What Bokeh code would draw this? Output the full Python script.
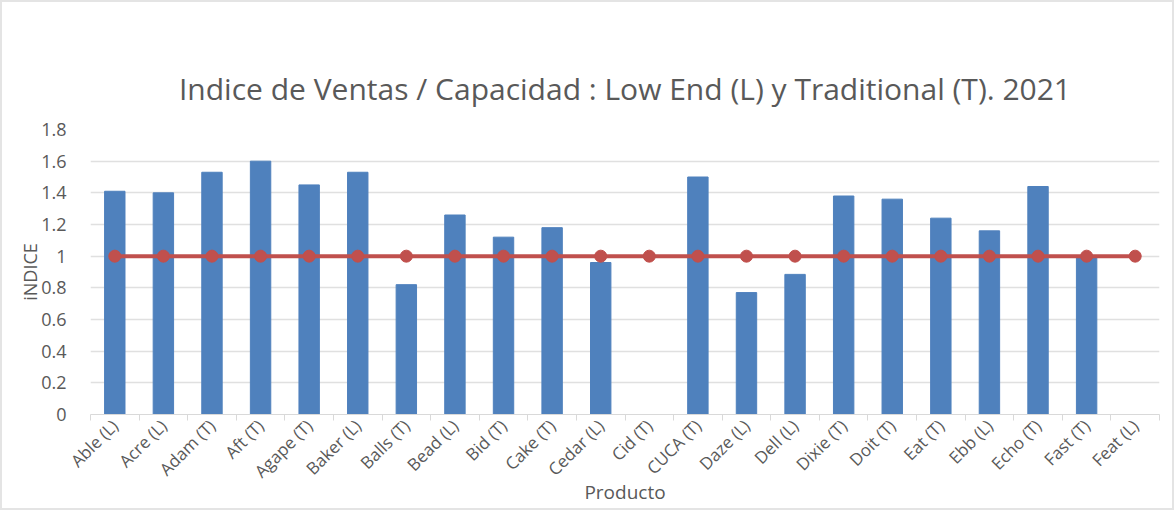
from bokeh.plotting import figure
from bokeh.models import FixedTicker, ColumnDataSource
from bokeh.embed import file_html
from bokeh.resources import INLINE
from math import pi

# Products (segment in parentheses) and their sales/capacity index for 2021
productos = ["Able (L)", "Acre (L)", "Adam (T)", "Aft (T)", "Agape (T)", "Baker (L)",
             "Balls (T)", "Bead (L)", "Bid (T)", "Cake (T)", "Cedar (L)", "Cid (T)",
             "CUCA (T)", "Daze (L)", "Dell (L)", "Dixie (T)", "Doit (T)", "Eat (T)",
             "Ebb (L)", "Echo (T)", "Fast (T)", "Feat (L)"]
indice = [1.41, 1.40, 1.53, 1.60, 1.45, 1.53,
          0.82, 1.26, 1.12, 1.18, 0.96, 0.0,
          1.50, 0.77, 0.885, 1.38, 1.36, 1.24,
          1.16, 1.44, 1.00, 0.0]
referencia = [1.0] * len(productos)

y_ticks = [0, 0.2, 0.4, 0.6, 0.8, 1.0, 1.2, 1.4, 1.6, 1.8]
y_tick_labels = ["0", "0.2", "0.4", "0.6", "0.8", "1", "1.2", "1.4", "1.6", "1.8"]

GRAY_TEXT = "#595959"
BLUE = "#4f81bd"
RED = "#c0504d"
FONT = "Open Sans"

xs = list(range(len(productos)))
src = ColumnDataSource(dict(x=xs, idx=indice, ref=referencia))

p = figure(width=1174, height=510, output_backend="svg", toolbar_location=None,
           x_range=(-0.5, len(productos) - 0.5), y_range=(0, 1.8),
           title="Indice de Ventas / Capacidad : Low End (L) y Traditional (T). 2021",
           min_border_left=88, min_border_right=17, min_border_top=127, min_border_bottom=98)
p.outline_line_color = None
p.background_fill_color = "white"
p.border_fill_color = "white"
p.styles = {"border": "2px solid #e4e4e4", "box-sizing": "border-box"}

p.title.align = "center"
p.title.text_font = FONT
p.title.text_font_size = "30px"
p.title.text_font_style = "normal"
p.title.text_color = GRAY_TEXT
p.title.standoff = 41

# bars and reference line
p.vbar(x="x", top="idx", width=0.42, bottom=0, source=src, color=BLUE)
p.line(x="x", y="ref", source=src, line_color=RED, line_width=4)
p.scatter(x="x", y="ref", source=src, size=12, color=RED)

# x axis: product names at bar centres, separator marks between categories
p.xaxis.ticker = FixedTicker(ticks=xs, minor_ticks=[i - 0.5 for i in range(len(productos) + 1)])
p.xaxis.major_label_overrides = {i: name for i, name in enumerate(productos)}
p.xaxis.major_label_orientation = pi / 4
p.xaxis.major_tick_line_color = None
p.xaxis.minor_tick_line_color = "#d9d9d9"
p.xaxis.minor_tick_out = 6
p.xaxis.minor_tick_in = 0
p.xaxis.axis_line_color = "#d9d9d9"
p.xaxis.major_label_text_font = FONT
p.xaxis.major_label_text_font_size = "17px"
p.xaxis.major_label_text_color = GRAY_TEXT
p.xaxis.major_label_standoff = 2
p.xaxis.axis_label = "Producto"
p.xaxis.axis_label_text_font = FONT
p.xaxis.axis_label_text_font_size = "19px"
p.xaxis.axis_label_text_font_style = "normal"
p.xaxis.axis_label_text_color = GRAY_TEXT
p.xaxis.axis_label_standoff = -15

# y axis
p.yaxis.ticker = FixedTicker(ticks=y_ticks)
p.yaxis.major_label_overrides = {t: s for t, s in zip(y_ticks, y_tick_labels)}
p.yaxis.axis_line_color = None
p.yaxis.major_tick_line_color = None
p.yaxis.minor_tick_line_color = None
p.yaxis.major_label_text_font = FONT
p.yaxis.major_label_text_font_size = "18px"
p.yaxis.major_label_text_color = GRAY_TEXT
p.yaxis.major_label_standoff = 18
p.yaxis.axis_label = "iNDICE"
p.yaxis.axis_label_text_font = FONT
p.yaxis.axis_label_text_font_size = "18px"
p.yaxis.axis_label_text_font_style = "normal"
p.yaxis.axis_label_text_color = GRAY_TEXT
p.yaxis.axis_label_standoff = -4

p.xgrid.grid_line_color = None
p.ygrid.grid_line_color = "#e0e0e0"
p.ygrid.grid_line_width = 1.5

open("out.html", "w").write(file_html(p, INLINE))
